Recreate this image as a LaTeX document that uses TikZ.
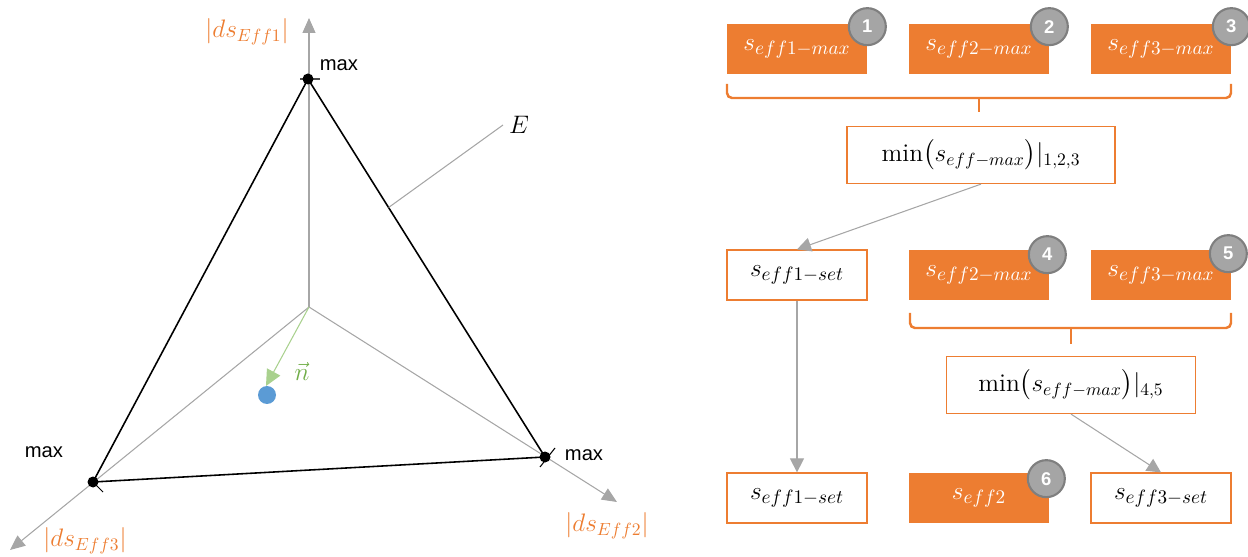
\documentclass[tikz,border=0pt]{standalone}
\usepackage{fontspec}
\usepackage{amsmath}
\newfontfamily\arialfont{Liberation Sans}
\usetikzlibrary{arrows.meta,calc}
\definecolor{effOrange}{HTML}{ED7D31}
\definecolor{axisGrey}{HTML}{A6A6A6}
\definecolor{badgeGrey}{HTML}{A5A5A5}
\definecolor{badgeRim}{HTML}{7F7F7F}
\definecolor{normGreen}{HTML}{A9D18E}
\definecolor{labelGreen}{HTML}{70AD47}
\definecolor{pointBlue}{HTML}{5B9BD5}
\tikzset{
    effbox/.style={minimum width=2.8cm, minimum height=1cm, inner sep=0pt, font=\fontsize{15.5}{17}\selectfont},
    maxbox/.style={effbox, fill=effOrange, text=white},
    setbox/.style={effbox, draw=effOrange, fill=white, line width=0.7pt},
    minbox/.style={setbox, minimum height=1.14cm, font=\fontsize{14.5}{16}\selectfont},
    badge/.style={circle, fill=badgeGrey, draw=badgeRim, line width=1.2pt, minimum size=0.74cm, inner sep=0pt, text=white, font={\arialfont\bfseries\fontsize{10.5}{12}\selectfont}},
    axis/.style={axisGrey, line width=0.6pt, -{Triangle[length=0.3cm, width=0.26cm]}},
    flow/.style={axisGrey, line width=0.6pt, -{Triangle[length=0.28cm, width=0.28cm]}},
    normal/.style={normGreen, line width=0.6pt, -{Triangle[length=0.32cm, width=0.3cm]}},
    brace/.style={effOrange, line width=1.4pt, rounded corners=0.1cm},
    edge/.style={black, line width=0.9pt},
    maxlabel/.style={font={\arialfont\fontsize{11.5}{13}\selectfont}},
    dslabel/.style={text=effOrange, font=\fontsize{14}{16}\selectfont}
}
\begin{document}
\begin{tikzpicture}[x=0.02cm, y=-0.02cm]
    \useasboundingbox (0,0) rectangle (1248,557);
    \coordinate (O) at (309,307);
    \coordinate (T1) at (308,79);
    \coordinate (T2) at (545,457);
    \coordinate (T3) at (93,482);
    \coordinate (A1) at (309,18);
    \coordinate (A2) at (617,502);
    \coordinate (A3) at (10,550);
    \coordinate (Ep) at ($(T1)!0.34!(T2)$);
    \coordinate (nTip) at (266,386);
    \foreach \a in {1,2,3} {
        \draw[axis] (O) -- (A\a);
    };
    \draw[edge] (T1) -- (T2) -- (T3) -- cycle;
    \draw[black!70, line width=0.6pt] (300,79) -- (320,79);
    \draw[black, line width=0.6pt] (T3) -- (103,492);
    \draw[black, line width=0.6pt] (540,467) -- (555,448);
    \foreach \t in {T1,T2,T3} {
        \fill (\t) circle (0.11cm);
    };
    \node[anchor=west, font=\fontsize{14}{16}\selectfont] (Elab) at (503,125) {$E$};
    \draw[axisGrey, line width=0.6pt] (Ep) -- (Elab.west);
    \draw[normal] (O) -- (nTip);
    \fill[pointBlue] (267,395) circle (0.18cm);
    \node[text=labelGreen, font=\fontsize{14}{16}\selectfont] (nlab) at (302,371) {$\vec{n}$};
    \node[dslabel] (ds1) at (247,32) {$|ds_{Eff1}|$};
    \node[dslabel] (ds2) at (607,526) {$|ds_{Eff2}|$};
    \node[dslabel] (ds3) at (85,541) {$|ds_{Eff3}|$};
    \node[maxlabel] (max1) at (339,65) {max};
    \node[maxlabel] (max2) at (584,455) {max};
    \node[maxlabel] (max3) at (44,452) {max};

    \foreach \i/\x in {1/797, 2/979, 3/1161} {
        \node[maxbox] (m\i) at (\x,49) {$s_{eff\i-max}$};
        \node[badge] (c\i) at ($(m\i.north east)+(0,3)$) {\i};
    };
    \draw[brace] (727,84) |- (1231,98) -- (1231,84);
    \draw[brace] (979,98) -- (979,112);
    \node[minbox, minimum width=5.36cm] (min1) at (981,155) {$\min\bigl(s_{eff-max}\bigr)|_{1,2,3}$};

    \node[setbox] (set1) at (797,275) {$s_{eff1-set}$};
    \node[maxbox] (m4) at (979,275) {$s_{eff2-max}$};
    \node[maxbox] (m5) at (1161,275) {$s_{eff3-max}$};
    \node[badge] (c4) at ($(m4.north east)+(-2,5)$) {4};
    \node[badge] (c5) at ($(m5.north east)+(-3,4)$) {5};
    \draw[brace] (910,313) |- (1231,328) -- (1231,313);
    \draw[brace] (1071,328) -- (1071,344);
    \node[minbox, minimum width=4.98cm] (min2) at (1071,385) {$\min\bigl(s_{eff-max}\bigr)|_{4,5}$};

    \node[setbox] (out1) at (797,498) {$s_{eff1-set}$};
    \node[maxbox] (out2) at (979,498) {$s_{eff2}$};
    \node[setbox] (out3) at (1161,498) {$s_{eff3-set}$};
    \node[badge] (c6) at ($(out2.north east)+(-3,6)$) {6};

    \draw[flow] (min1.south) -- (set1.north);
    \draw[flow] (set1.south) -- (out1.north);
    \draw[flow] (min2.south) -- (out3.north);
\end{tikzpicture}
\end{document}
